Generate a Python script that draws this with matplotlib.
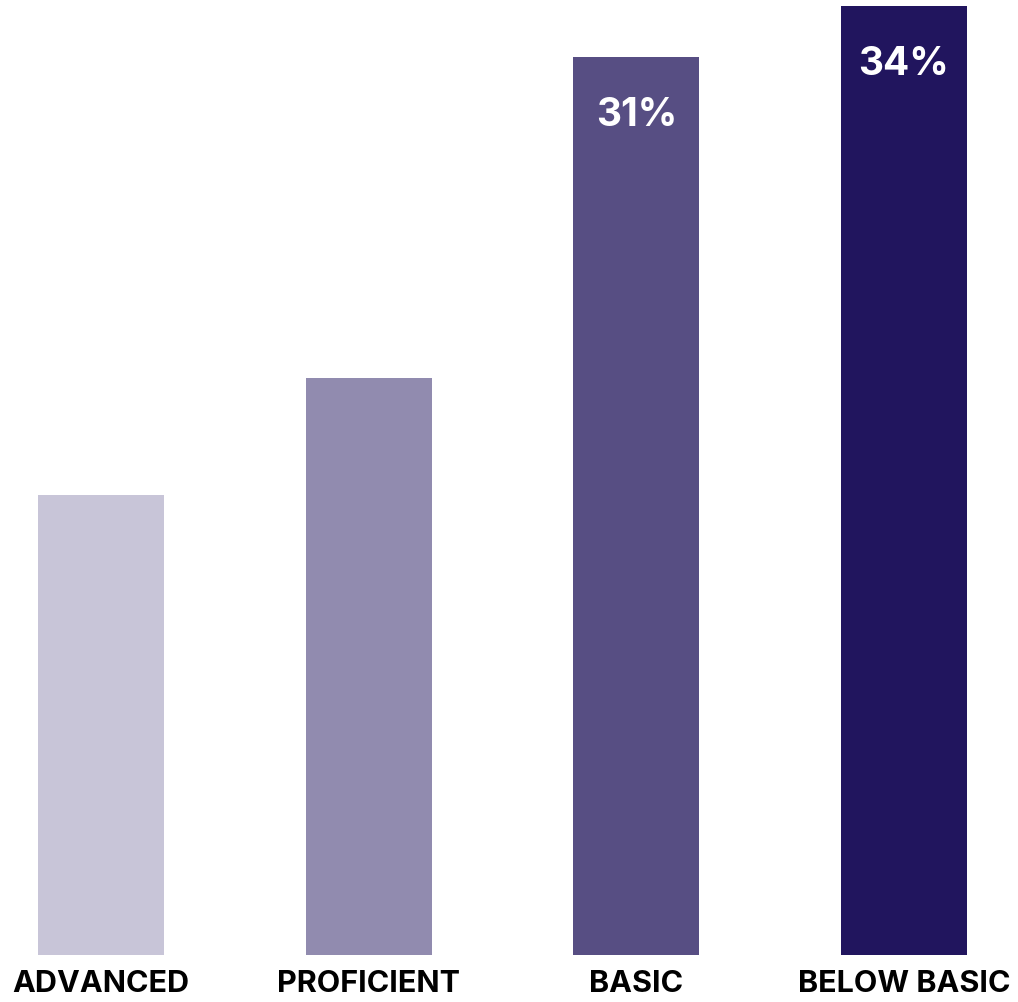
import matplotlib.pyplot as plt

categories = ["ADVANCED", "PROFICIENT", "BASIC", "BELOW BASIC"]
values = [16.2, 20.3, 31.6, 33.4]
value_labels = ["", "", "31%", "34%"]
colors = ["#C8C5D8", "#918BAF", "#574E83", "#21155E"]

plt.rcParams['font.family'] = ['Inter', 'DejaVu Sans']

fig = plt.figure(figsize=(10.18, 10.02), dpi=100)
ax = fig.add_axes([0, 47 / 1002, 1, 955 / 1002])

x = range(len(categories))
bars = ax.bar(x, values, width=0.47, color=colors)

for bar, lab in zip(bars, value_labels):
    if lab:
        ax.annotate(lab, (bar.get_x() + bar.get_width() / 2, bar.get_height()),
                    xytext=(0, -42), textcoords="offset points",
                    ha="center", va="center", color="white",
                    fontsize=28, fontweight="bold")

ax.set_xlim(-0.377, 3.426)
ax.set_ylim(0, 33.4 * 955 / 949)
ax.set_xticks(list(x))
ax.set_xticklabels(categories, fontsize=22, fontweight="bold")
ax.tick_params(axis="x", length=0, pad=11)
ax.set_yticks([])
for s in ax.spines.values():
    s.set_visible(False)

fig.savefig("out.png", dpi=100)
